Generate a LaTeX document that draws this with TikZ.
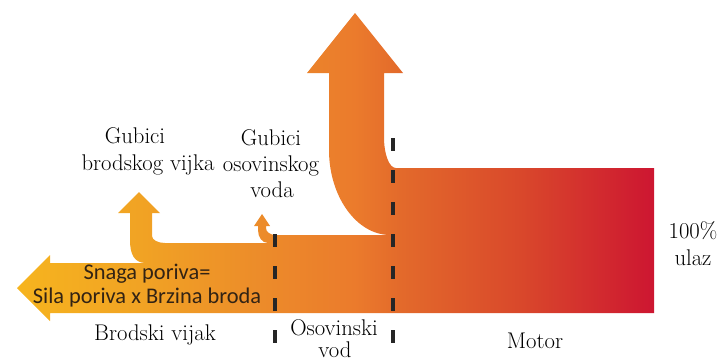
\documentclass[tikz,border=0pt]{standalone}
\usepackage{fontspec}
\newfontfamily\calib{Carlito}
\pgfdeclarehorizontalshading{flowshade}{100bp}{%
 rgb(0bp)=(0.965,0.706,0.118);
 rgb(25bp)=(0.965,0.706,0.118);
 rgb(34.65bp)=(0.945,0.639,0.141);
 rgb(44.3bp)=(0.925,0.545,0.165);
 rgb(51.5bp)=(0.922,0.482,0.173);
 rgb(55.05bp)=(0.890,0.416,0.169);
 rgb(64.5bp)=(0.851,0.282,0.169);
 rgb(75bp)=(0.804,0.086,0.192);
 rgb(100bp)=(0.804,0.086,0.192)}
\begin{document}
\begin{tikzpicture}[x=1pt,y=-1pt,
  lbl/.style={font=\rmfamily\fontsize{22.7}{26}\selectfont, anchor=base, inner sep=0pt, text=black},
  thrusttext/.style={font=\calib\fontsize{22.4}{24}\selectfont, text={rgb,255:red,50;green,35;blue,20}},
  divider/.style={line width=4pt, draw=black!85, dash pattern=on 13pt off 19pt}]
\useasboundingbox (0,0) rectangle (723,362);
% energy flow band
\shade[shading=flowshade]
 (17,288) -- (50,255) -- (50,263) -- (146,263)
 .. controls (134,263) and (130,254) .. (130,240)
 -- (130,213) -- (118,213) -- (139,192) -- (160,213) -- (152,213) -- (152,236)
 .. controls (152,240) and (158,243) .. (165,243)
 -- (268,243)
 .. controls (262,243) and (258,237) .. (258,230)
 -- (258,226) -- (254,226) -- (262,214) -- (270,226) -- (266,226) -- (266,228)
 .. controls (266,232) and (270,235) .. (276,235)
 -- (390,235)
 .. controls (357,235) and (329,197) .. (329,150)
 -- (329,73) -- (307,73) -- (355,13) -- (403,73) -- (384,73) -- (384,137)
 .. controls (384,154) and (389,168) .. (396,168)
 -- (654,168) -- (654,313) -- (50,313) -- (50,321) -- cycle;
% dividers
\coordinate (rtop) at (393,138);
\coordinate (rbot) at (393,345);
\coordinate (ltop) at (275,234);
\coordinate (lbot) at (275,345);
\draw[divider] (rtop) -- (rbot);
\draw[divider] (ltop) -- (lbot);
% labels
\node[lbl] (gv1) at (135,143) {Gubici};
\node[lbl] (gv2) at (148,170) {brodskog vijka};
\node[lbl] (go1) at (271,145) {Gubici};
\node[lbl] (go2) at (271,171) {osovinskog};
\node[lbl] (go3) at (272,197) {voda};
\node[lbl,thrusttext] (sp1) at (147,279) {Snaga poriva=};
\node[lbl,thrusttext] (sp2) at (147,303) {Sila poriva x Brzina broda};
\node[lbl] (bv) at (155,340) {Brodski vijak};
\node[lbl] (os1) at (334,335) {Osovinski};
\node[lbl] (os2) at (335,357) {vod};
\node[lbl] (mo) at (535,348) {Motor};
\node[lbl] (ul1) at (693,238) {100\%};
\node[lbl] (ul2) at (693,265) {ulaz};
\end{tikzpicture}
\end{document}
